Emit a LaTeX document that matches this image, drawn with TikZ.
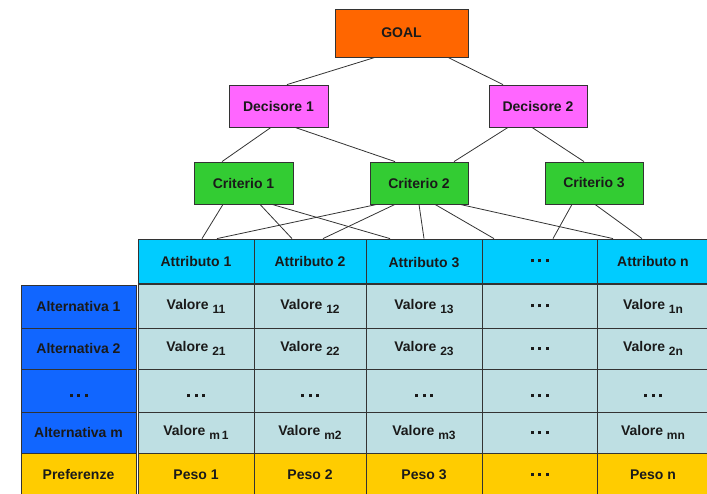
\documentclass[tikz,border=0pt]{standalone}
\usepackage{fontspec}
\setmainfont{Liberation Sans}
\definecolor{linec}{HTML}{333333}
\definecolor{textc}{HTML}{1A1A1A}
\definecolor{goalc}{HTML}{FF6600}
\definecolor{decc}{HTML}{FF66FF}
\definecolor{critc}{HTML}{33CC33}
\definecolor{attrc}{HTML}{00CCFF}
\definecolor{valc}{HTML}{BEDFE3}
\definecolor{altc}{HTML}{1166FF}
\definecolor{pesoc}{HTML}{FFCC00}
% value with a lowered index
\newcommand{\val}[1]{Valore\ {\fontsize{12}{12}\selectfont\raisebox{-4pt}{#1}}}
% spaced ellipsis made of square dots
\newcommand{\tdots}{\rule{3pt}{3pt}\hspace{4.5pt}\rule{3pt}{3pt}\hspace{4.5pt}\rule{3pt}{3pt}}
\begin{document}
\begin{tikzpicture}[x=1pt,y=-1pt,
  box/.style={draw=linec, line width=0.8pt, inner sep=0pt, text=textc,
    font=\fontsize{14}{16}\selectfont\bfseries},
  hbox/.style={box, minimum width=99pt, minimum height=42pt},
  link/.style={draw=linec, line width=0.8pt},
  attr/.style={box, fill=attrc, minimum height=44pt},
  valcell/.style={box, fill=valc},
  altcell/.style={box, fill=altc, minimum width=115pt},
  pesocell/.style={box, fill=pesoc},
  label/.style={font=\fontsize{14}{16}\selectfont\bfseries, text=textc, inner sep=0pt}]
\useasboundingbox (0,0) rectangle (707,494);

% hierarchy
\node[box, fill=goalc, minimum width=133pt, minimum height=48pt] (goal) at (401.5,33) {GOAL};
\node[hbox, fill=decc] (d1) at (278.5,106) {Decisore 1};
\node[hbox, fill=decc, minimum width=98pt] (d2) at (538,106) {Decisore 2};
\node[hbox, fill=critc] (c1) at (243.5,183) {Criterio 1};
\node[hbox, fill=critc, minimum width=98pt] (c2) at (419,183) {Criterio 2};
\node[hbox, fill=critc, minimum width=98pt] (c3) at (594,183) {Criterio 3};

% attribute header row
\node[attr, minimum width=116pt] (a1) at (196,261) {Attributo 1};
\node[attr, minimum width=112pt] (a2) at (310,261) {Attributo 2};
\node[attr, minimum width=116pt] (a3) at (424,261) {};
\node[label, yshift=-1.5pt] at (a3) {Attributo 3};
\node[attr, minimum width=115pt] (a4) at (539.5,261) {\tdots};
\node[attr, minimum width=112pt] (a5) at (653,261) {Attributo n};

% alternatives column
\node[altcell, minimum height=43pt] (l1) at (78.5,306.5) {Alternativa 1};
\node[altcell, minimum height=41pt] (l2) at (78.5,348.5) {Alternativa 2};
\node[altcell, minimum height=43pt] (l3) at (78.5,390.5) {};
\node[label, yshift=-5pt] at (l3) {\tdots};
\node[altcell, minimum height=41pt] (l4) at (78.5,432.5) {Alternativa m};
\node[box, fill=pesoc, minimum width=115pt, minimum height=43pt] (l5) at (78.5,474.5) {Preferenze};

% value matrix
\foreach \cx/\w/\n in {196/116/1, 310/112/2, 424/116/3, 539.5/115/4, 653/112/5}{
  \node[valcell, minimum width=\w pt, minimum height=44pt] (v1\n) at (\cx,306) {};
  \node[valcell, minimum width=\w pt, minimum height=41pt] (v2\n) at (\cx,348.5) {};
  \node[valcell, minimum width=\w pt, minimum height=43pt] (v3\n) at (\cx,390.5) {};
  \node[label, yshift=-5pt] at (v3\n) {\tdots};
  \node[valcell, minimum width=\w pt, minimum height=41pt] (v4\n) at (\cx,432.5) {};
  \node[pesocell, minimum width=\w pt, minimum height=43pt] (p\n) at (\cx,474.5) {};
}
\foreach \n/\a/\b/\m/\p in {1/11/21/m\,1/Peso 1, 2/12/22/m2/Peso 2, 3/13/23/m3/Peso 3,
                           5/1n/2n/mn/Peso n}{
  \node[label] at (v1\n) {\val{\a}};
  \node[label] at (v2\n) {\val{\b}};
  \node[label] at (v4\n) {\val{\m}};
  \node[label] at (p\n) {\p};
}
\foreach \r in {v14, v24, v44, p4}{
  \node[label] at (\r) {\tdots};
}

% links between levels
\draw[link] ([xshift=-26.5pt]goal.south) -- ([xshift=8.5pt]d1.north);
\draw[link] ([xshift=46.5pt]goal.south) -- ([xshift=-35pt]d2.north);
\draw[link] ([xshift=-7.5pt]d1.south) -- ([xshift=-21.5pt]c1.north);
\draw[link] ([xshift=16.5pt]d1.south) -- ([xshift=-24pt]c2.north);
\draw[link] ([xshift=-30pt]d2.south) -- ([xshift=35pt]c2.north);
\draw[link] ([xshift=-6pt]d2.south) -- ([xshift=-10pt]c3.north);

\draw[link] ([xshift=-20.5pt]c1.south) -- ([xshift=6pt]a1.north);
\draw[link] ([xshift=16.5pt]c1.south) -- ([xshift=-18pt]a2.north);
\draw[link] ([xshift=28.5pt]c1.south) -- ([xshift=-34pt]a3.north);
\draw[link] ([xshift=-42pt]c2.south) -- ([xshift=21pt]a1.north);
\draw[link] ([xshift=-24pt]c2.south) -- ([xshift=13pt]a2.north);
\draw[link] (c2.south) -- (a3.north);
\draw[link] ([xshift=16pt]c2.south) -- ([xshift=-45.5pt]a4.north);
\draw[link] ([xshift=41pt]c2.south) -- ([xshift=-40pt]a5.north);
\draw[link] ([xshift=-22pt]c3.south) -- ([xshift=13.5pt]a4.north);
\draw[link] ([xshift=1pt]c3.south) -- ([xshift=-11pt]a5.north);
\end{tikzpicture}
\end{document}
